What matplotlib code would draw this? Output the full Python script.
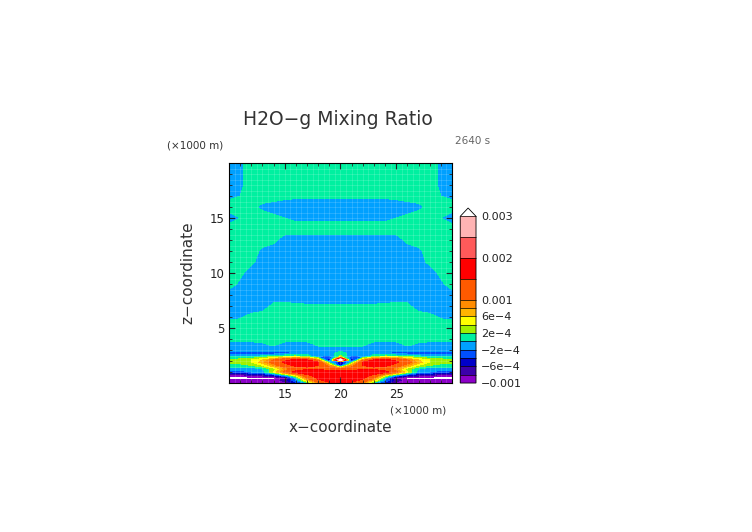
import numpy as np
import matplotlib
matplotlib.use("Agg")
import matplotlib.pyplot as plt
from matplotlib.colors import ListedColormap, BoundaryNorm

# x positions of the left half (mirrored about x = 20)
x_half = [10, 11, 12, 13, 14, 15, 16, 17, 18, 19, 20]
z_levels = [0.0, 0.25, 0.45, 0.7, 1.0, 1.3, 1.6, 1.9, 2.1, 2.4, 2.7, 3.1, 3.5,
            4, 5, 6, 7, 8, 9, 10, 11, 12, 13, 14, 15, 16, 17, 18, 19, 20]
# mixing ratio, units of 1e-4, columns x = 10..20
rows_half = [
    [-9, -9, -9, -9, -9, -9, -5, 0, 8, 14, 18],
    [-9, -9, -9, -9, -9, -7, -2, 6, 14, 17, 19],
    [-11, -11, -11, -11, -11, -9, -1, 10, 16, 18, 19],
    [-9, -9, -8, -7, -5, -1, 5, 14, 17, 18, 19],
    [-3, -3, -2, -1, 4, 11, 17, 18, 18, 18, 18],
    [-1, -1, -1, 0, 3, 8, 12, 14, 14, 12, 10],
    [1, 1, 2, 4, 8, 13, 16, 16, 15, 8, -5],
    [3, 3, 4, 7, 12, 16, 18, 18, 15, 0, -9],
    [2, 3, 4, 6, 10, 14, 16, 15, 8, -8, 35],
    [0, 0, 0, 1, 2, 3, 3, 2, -2, -3, 3],
    [-3, -3, -3, -3, -3, -3, -2, -1, -1, -1, 1],
    [-1, -1, -1, -1, -1, -1, -1, -1, -1, -1, -1],
    [-1, -1, -1, -0.5, 0.5, -1, -1, -1, 0.5, 1, 0.5],
    [1, 1, 1, 1, 1, 1, 1, 1, 1, 1, 1],
    [1, 1, 1, 1, 1, 1, 1, 1, 1, 1, 1],
    [-0.3, -0.2, 0.5, 1, 1, 1, 1, 1, 1, 1, 1],
    [-1, -1, -1, -1, 0.5, 0.5, 0.3, 0.2, 0.2, 0.2, 0.2],
    [-1, -1, -1, -1, -1, -1, -1, -1, -1, -1, -1],
    [1, -0.5, -1, -1, -1, -1, -1, -1, -1, -1, -1],
    [1, 0.5, -1, -1, -1, -1, -1, -1, -1, -1, -1],
    [1, 1, 0.5, -1, -1, -1, -1, -1, -1, -1, -1],
    [1, 1, 1, -0.5, -1, -1, -1, -1, -1, -1, -1],
    [1, 1, 1, 1, 0.5, -1, -1, -1, -1, -1, -1],
    [1, 1, 1, 1, 1, 1, 1, 1, 1, 1, 1],
    [-1, 0, 1, 1, 0.5, 0, -0.5, -0.5, -0.5, -0.5, -0.5],
    [1, 1, 0.5, -0.5, -1, -1, -1, -1, -1, -1, -1],
    [-0.5, 0, 1, 1, 1, 0.5, 0.3, 0.3, 0.3, 0.3, 0.3],
    [-1, -0.5, 1, 1, 1, 1, 1, 1, 1, 1, 1],
    [-1, -0.5, 1, 1, 1, 1, 1, 1, 1, 1, 1],
    [-1, -0.5, 1, 1, 1, 1, 1, 1, 1, 1, 1],
]
levels = [-10, -8, -6, -4, -2, 0, 2, 4, 6, 8, 10, 15, 20, 25, 30]
colors = ["#8c00c8", "#3c00aa", "#0000c8", "#0050ff", "#00a0ff", "#00f0a0",
          "#a0f000", "#ffff00", "#ffb400", "#ff8c00", "#ff5a00", "#ff0000",
          "#ff5a5a", "#ffb4b4"]
cbar_ticks = [-10, -6, -2, 2, 6, 10, 20, 30]
cbar_labels = ["\u22120.001", "\u22126e\u22124", "\u22122e\u22124", "2e\u22124",
               "6e\u22124", "0.001", "0.002", "0.003"]

x = np.array(x_half + [40 - v for v in x_half[-2::-1]], dtype=float)
z = np.array(z_levels)
field = np.array([r + r[-2::-1] for r in rows_half], dtype=float)

cmap = ListedColormap(colors)
cmap.set_over("white")
norm = BoundaryNorm(levels, cmap.N)

fig = plt.figure(figsize=(7.52, 5.32), dpi=100)
ax = fig.add_axes([0.3045, 0.280, 0.2965, 0.4135])
cf = ax.contourf(x, z, field, levels=levels, cmap=cmap, norm=norm, extend="max")
for g in np.arange(10, 30, 0.5):
    ax.axvline(g, color="white", lw=0.4, alpha=0.25)
for g in np.arange(0, 20, 0.5):
    ax.axhline(g, color="white", lw=0.4, alpha=0.25)
ax.set_xlim(10, 30)
ax.set_ylim(0, 20)
ax.set_xticks([15, 20, 25])
ax.set_yticks([5, 10, 15])
ax.set_xticks(np.arange(10, 31, 1), minor=True)
ax.set_yticks(np.arange(0, 21, 1), minor=True)
ax.tick_params(direction="in", which="both", top=True, right=True,
               labelsize=8.5, length=4, colors="black", labelcolor="#222222")
ax.tick_params(which="minor", length=2)
for s in ax.spines.values():
    s.set_linewidth(0.8)

fig.text(0.4495, 0.765, "H2O\u2212g Mixing Ratio", ha="center", fontsize=13.5,
         color="#333333")
fig.text(0.222, 0.720, "(\u00d71000 m)", fontsize=7.5, color="#333333")
fig.text(0.605, 0.730, "2640 s", fontsize=7.5, color="#666666")
fig.text(0.519, 0.222, "(\u00d71000 m)", fontsize=7.5, color="#333333")
ax.set_xlabel("x\u2212coordinate", fontsize=11, color="#333333", labelpad=14)
ax.set_ylabel("z\u2212coordinate", fontsize=11, color="#333333", labelpad=10)

cax = fig.add_axes([0.612, 0.280, 0.021, 0.329])
cb = fig.colorbar(cf, cax=cax, spacing="proportional", drawedges=True,
                  extendfrac=0.05)
cb.set_ticks(cbar_ticks)
cb.set_ticklabels(cbar_labels)
cb.ax.tick_params(length=0, width=0, labelsize=8, colors="#222222")
cb.ax.minorticks_off()
cb.outline.set_linewidth(0.6)
cb.dividers.set_linewidth(0.5)

fig.savefig("out.png", dpi=100)
